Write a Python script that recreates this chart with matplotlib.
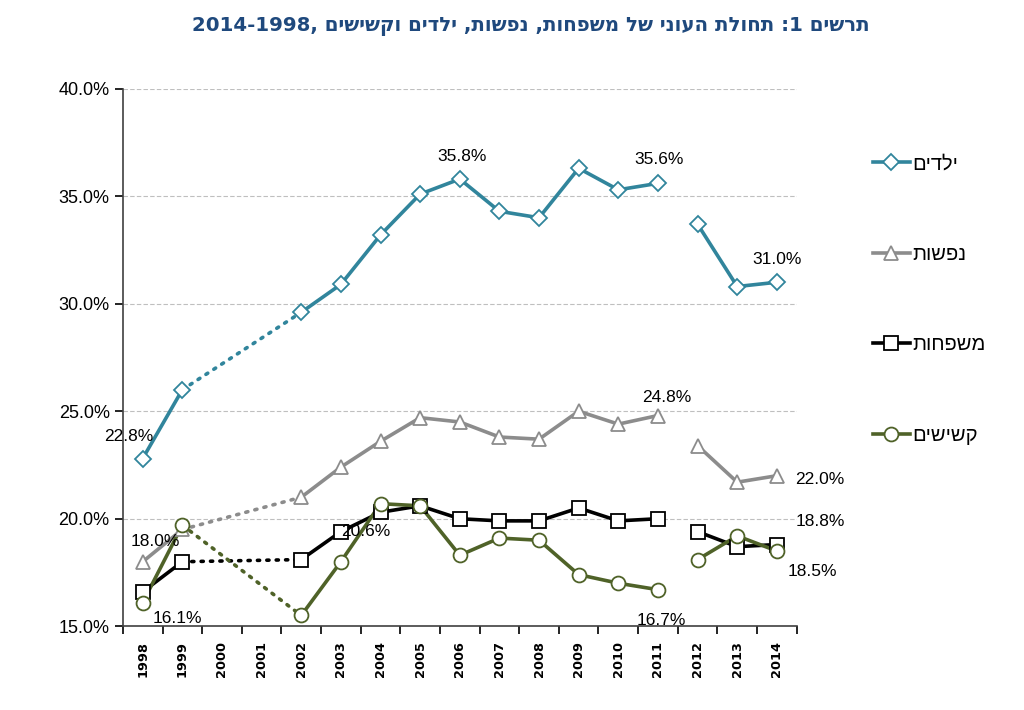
import numpy as np
import matplotlib.pyplot as plt
from matplotlib.lines import Line2D
from matplotlib.ticker import FixedLocator, FuncFormatter


def heb(s):
	# matplotlib has no bidi, so hebrew text is given in visual order
	return s[::-1]


years = list(range(1998, 2015))

children = [22.8, 26.0, None, None, 29.6, 30.9, 33.2, 35.1, 35.8, 34.3, 34.0, 36.3, 35.3, 35.6, 33.7, 30.8, 31.0]
persons = [18.0, 19.5, None, None, 21.0, 22.4, 23.6, 24.7, 24.5, 23.8, 23.7, 25.0, 24.4, 24.8, 23.4, 21.7, 22.0]
families = [16.6, 18.0, None, None, 18.1, 19.4, 20.3, 20.6, 20.0, 19.9, 19.9, 20.5, 19.9, 20.0, 19.4, 18.7, 18.8]
seniors = [16.1, 19.7, None, None, 15.5, 18.0, 20.7, 20.6, 18.3, 19.1, 19.0, 17.4, 17.0, 16.7, 18.1, 19.2, 18.5]

names = ["ילדים", "נפשות", "משפחות", "קשישים"]
title = "2014-1998, " + heb("תחולת העוני של משפחות, נפשות, ילדים וקשישים") + " :1 " + heb("תרשים")

series = [children, persons, families, seniors]
colors = ["#31859C", "#8C8C8C", "#000000", "#4F6228"]
markers = ["D", "^", "s", "o"]
msizes = [8, 10, 10, 10]

plt.rcParams['font.family'] = ['Liberation Sans', 'DejaVu Sans']

fig = plt.figure(figsize=(10.24, 7.10), dpi=100)
ax = fig.add_axes([0.120, 0.118, 0.658, 0.757])

x = np.array(years)
handles = []
for i in range(len(series)):
	y = np.array([np.nan if v is None else v for v in series[i]])
	c = colors[i]
	# solid pieces
	for a, b in [(0, 2), (4, 14), (14, 17)]:
		ax.plot(x[a:b], y[a:b], color=c, lw=2.6, solid_capstyle='round', zorder=3)
	# dotted bridge over missing years
	ax.plot([x[1], x[4]], [y[1], y[4]], color=c, lw=2.6, linestyle=(0, (0.6, 2.0)),
		dash_capstyle='round', zorder=2)
	ax.plot(x, y, linestyle='none', marker=markers[i], ms=msizes[i], mfc='white',
		mec=c, mew=1.3, zorder=4)
	handles.append(Line2D([], [], color=c, lw=2.6, marker=markers[i], ms=msizes[i],
		mfc='white', mec=c, mew=1.3, label=heb(names[i])))

# data labels, offsets in pixels
labels = [
	(1998, children[0], "22.8%", -14, 22, 'center'),
	(2006, children[8], "35.8%", 2, 23, 'center'),
	(2011, children[13], "35.6%", 1, 24, 'center'),
	(2014, children[16], "31.0%", 0, 23, 'center'),
	(2011, persons[13], "24.8%", 9, 18, 'center'),
	(2014, persons[16], "22.0%", 18, -4, 'left'),
	(1998, persons[0], "18.0%", 13, 20, 'center'),
	(1998, seniors[0], "16.1%", 35, -16, 'center'),
	(2004, families[6], "20.6%", -15, -19, 'center'),
	(2014, families[16], "18.8%", 43, 23, 'center'),
	(2014, seniors[16], "18.5%", 36, -21, 'center'),
	(2011, seniors[13], "16.7%", 3, -31, 'center'),
]
for xv, yv, t, dx, dy, ha in labels:
	ax.annotate(t, (xv, yv), xytext=(dx, dy), textcoords='offset pixels', ha=ha,
		va='center', fontsize=12.5, zorder=5)

ax.set_xlim(1997.5, 2014.5)
ax.set_ylim(15, 40)
ax.yaxis.set_major_locator(FixedLocator([15, 20, 25, 30, 35, 40]))
ax.yaxis.set_major_formatter(FuncFormatter(lambda v, p: "%.1f%%" % v))
ax.grid(axis='y', color='#BFBFBF', linestyle=(0, (4, 2)), lw=0.8)
ax.set_axisbelow(True)

ax.set_xticks(years)
ax.set_xticklabels([str(v) for v in years], rotation=90, family='DejaVu Sans',
	fontweight='bold', fontsize=9.3)
ax.xaxis.set_minor_locator(FixedLocator(np.arange(1997.5, 2015, 1)))
ax.tick_params(axis='x', which='major', length=0, pad=11)
ax.tick_params(axis='x', which='minor', length=6, width=1.2, direction='out')
ax.tick_params(axis='y', length=6, width=1.2, labelsize=13, direction='out')

for s in ['top', 'right']:
	ax.spines[s].set_visible(False)
for s in ['left', 'bottom']:
	ax.spines[s].set_linewidth(1.2)
	ax.spines[s].set_color('#404040')

fig.legend(handles=handles, loc='upper left', bbox_to_anchor=(0.843, 0.797),
	frameon=False, borderpad=0, labelspacing=3.55, handlelength=1.8,
	handletextpad=0.15, prop={'family': ['Liberation Sans', 'DejaVu Sans'], 'size': 14.5})

fig.text(0.849, 0.962, title, ha='right', va='center', fontsize=14.2,
	fontweight='bold', color='#1F497D', family='DejaVu Sans')

plt.savefig('out.png', dpi=100)
